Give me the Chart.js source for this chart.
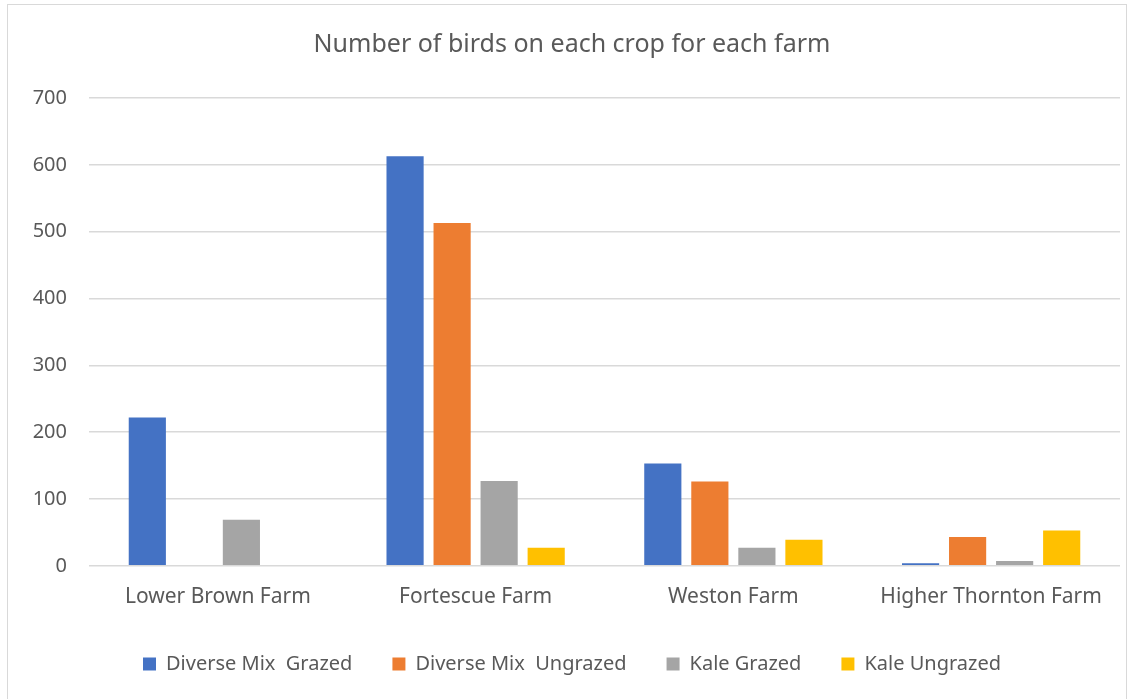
<!DOCTYPE html>
<html>
<head>
<meta charset="utf-8">
<script src="https://cdn.jsdelivr.net/npm/chart.js@4"></script>
<style>
  html, body { margin: 0; padding: 0; background: #fff; }
  #wrap { position: relative; width: 1129px; height: 699px; overflow: hidden; }
  #frame { position: absolute; left: 7px; top: 4px; width: 1118px; height: 710px; border: 1px solid #d9d9d9; }
  canvas { position: absolute; left: 0; top: 0; }
</style>
</head>
<body>
<div id="wrap">
  <div id="frame"></div>
  <canvas id="myChart" width="1129" height="699"></canvas>
</div>
<script>
const farms = ['Lower Brown Farm', 'Fortescue Farm', 'Weston Farm', 'Higher Thornton Farm'];
const diverseGrazed = [222, 613, 153, 4];
const diverseUngrazed = [0, 513, 126, 43];
const kaleGrazed = [69, 127, 27, 7];
const kaleUngrazed = [0, 27, 39, 53];

const textColor = '#595959';
const fontFamily = '"Noto Sans", "Open Sans", sans-serif';

const ctx = document.getElementById('myChart').getContext('2d');
var myChart = new Chart(ctx, {
    type: 'bar',
    data: {
        labels: farms,
        datasets: [
            { label: 'Diverse Mix  Grazed', data: diverseGrazed, backgroundColor: '#4472C4' },
            { label: 'Diverse Mix  Ungrazed', data: diverseUngrazed, backgroundColor: '#ED7D31' },
            { label: 'Kale Grazed', data: kaleGrazed, backgroundColor: '#A5A5A5' },
            { label: 'Kale Ungrazed', data: kaleUngrazed, backgroundColor: '#FFC000' }
        ]
    },
    options: {
        responsive: false,
        animation: false,
        layout: { padding: { left: 24, right: 9, top: 0, bottom: 15 } },
        datasets: {
            bar: { categoryPercentage: 0.73, barPercentage: 0.79, borderWidth: 0 }
        },
        scales: {
            x: {
                afterFit: function (scale) { scale.height -= 15; },
                grid: { display: false, drawTicks: false },
                border: { display: false },
                ticks: { color: textColor, font: { family: fontFamily, size: 21 }, padding: 19 }
            },
            y: {
                min: 0,
                max: 700,
                afterFit: function (scale) { scale.width = 65; },
                grid: { color: '#d9d9d9', lineWidth: 1.5, drawTicks: false },
                border: { display: false },
                ticks: { stepSize: 100, color: textColor, font: { family: fontFamily, size: 20 }, padding: 22 }
            }
        },
        plugins: {
            title: {
                display: true,
                text: 'Number of birds on each crop for each farm',
                color: textColor,
                font: { family: fontFamily, size: 25, weight: 'normal' },
                padding: { top: 30, bottom: 38 }
            },
            legend: {
                position: 'bottom',
                labels: {
                    color: textColor,
                    font: { family: fontFamily, size: 20 },
                    boxWidth: 13,
                    boxHeight: 13,
                    padding: 40
                }
            },
            tooltip: { enabled: false }
        }
    }
});
</script>
</body>
</html>
